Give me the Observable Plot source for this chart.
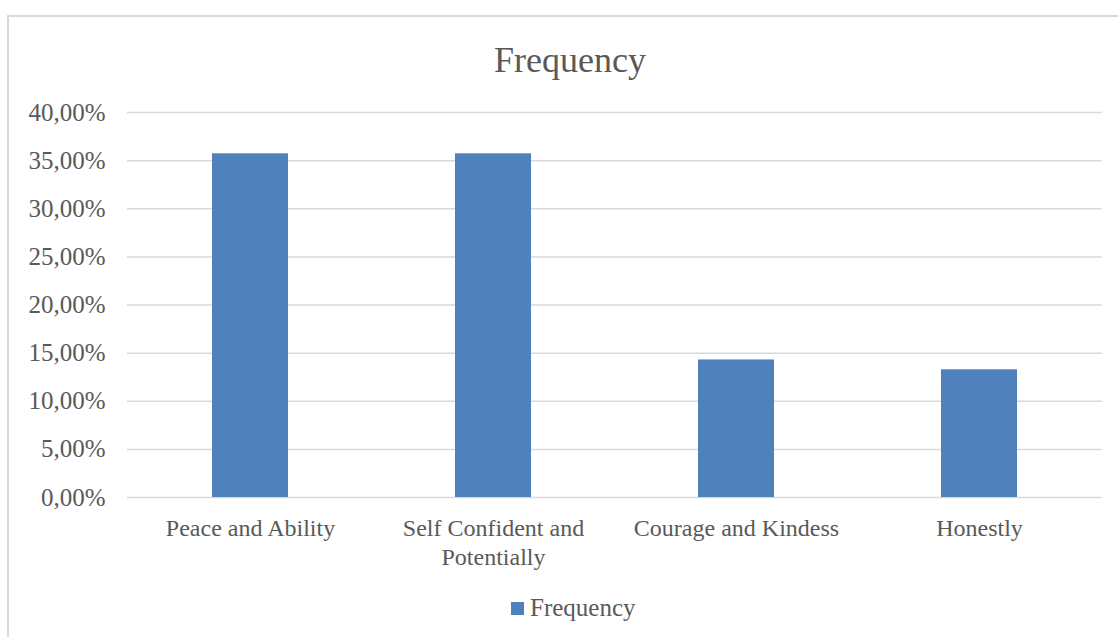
<!DOCTYPE html>
<html>
<head>
<meta charset="utf-8">
<script src="https://cdn.jsdelivr.net/npm/d3@7"></script>
<script src="https://cdn.jsdelivr.net/npm/@observablehq/plot@0.6"></script>
<style>
  html, body { margin: 0; padding: 0; background: #fff; }
  #wrap { position: relative; width: 1118px; height: 637px; overflow: hidden; font-family: "Liberation Serif", "DejaVu Serif", serif; color: #595959; }
  #border { position: absolute; left: 7px; top: 15px; width: 1130px; height: 700px; border: 2px solid #d9d9d9; box-sizing: border-box; }
  #title { position: absolute; top: 40px; left: 570px; transform: translateX(-50%); font-size: 36px; line-height: 40px; white-space: nowrap; }
  #chart { position: absolute; top: 90px; left: 0; }
  #legend { position: absolute; top: 594px; left: 511px; font-size: 25px; line-height: 28px; display: flex; align-items: center; white-space: nowrap; }
  #legend .sw { width: 13px; height: 13px; background: #4f81bd; margin-right: 6px; }
</style>
</head>
<body>
<div id="wrap">
  <div id="border"></div>
  <div id="title">Frequency</div>
  <div id="chart"></div>
  <div id="legend"><span class="sw"></span><span>Frequency</span></div>
</div>
<script>
const categories = ["Peace and Ability", "Self Confident and Potentially", "Courage and Kindess", "Honestly"];
const tickLabels = ["Peace and Ability", "Self Confident and\nPotentially", "Courage and Kindess", "Honestly"];
const frequency = [35.71, 35.71, 14.29, 13.27];
const yTicks = [0, 5, 10, 15, 20, 25, 30, 35, 40];

const data = categories.map((c, i) => ({category: c, value: frequency[i]}));
const labelOf = new Map(categories.map((c, i) => [c, tickLabels[i]]));

const chart = Plot.plot({
  width: 1118,
  height: 490,
  marginTop: 22,
  marginBottom: 83,
  marginLeft: 127,
  marginRight: 16,
  style: {fontFamily: "'Liberation Serif', 'DejaVu Serif', serif", fontSize: "24px", color: "#595959", background: "transparent"},
  x: {domain: categories, paddingInner: 0.688, paddingOuter: 0.344, label: null},
  y: {domain: [0, 40], label: null},
  marks: [
    Plot.gridY(yTicks, {stroke: "#d9d9d9", strokeOpacity: 1, strokeWidth: 1.5}),
    Plot.barY(data, {x: "category", y: "value", fill: "#4f81bd"}),
    Plot.axisY({ticks: yTicks, tickSize: 0, tickPadding: 22, tickFormat: d => d.toFixed(2).replace(".", ",") + "%", fill: "#595959", fontSize: 25}),
    Plot.axisX({tickSize: 0, tickPadding: 18, tickFormat: d => labelOf.get(d), lineHeight: 1.2, fill: "#595959", fontSize: 24})
  ]
});
document.getElementById("chart").appendChild(chart);
</script>
</body>
</html>
